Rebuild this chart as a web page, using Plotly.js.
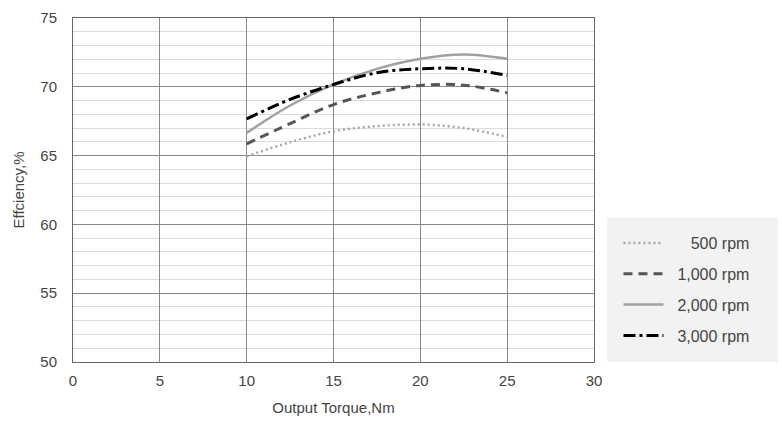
<!DOCTYPE html>
<html>
<head>
<meta charset="utf-8">
<script src="https://cdn.plot.ly/plotly-3.0.1.min.js"></script>
<style>html,body{margin:0;padding:0;background:#fff;}#chart{width:782px;height:426px;}</style>
</head>
<body>
<div id="chart"></div>
<script>
const torque = [10, 12.5, 15, 17.5, 20, 22.5, 25];
const eff500 = [64.95, 65.97, 66.77, 67.14, 67.26, 67.0, 66.36];
const eff1000 = [65.85, 67.33, 68.71, 69.56, 70.1, 70.12, 69.56];
const eff2000 = [66.65, 68.64, 70.17, 71.3, 72.04, 72.35, 72.04];
const eff3000 = [67.67, 69.08, 70.17, 71.02, 71.31, 71.31, 70.83];
const seriesNames = ['\u00a0\u00a0\u2007\u2008500 rpm', '\u00a0\u00a01,000 rpm', '\u00a0\u00a02,000 rpm', '\u00a0\u00a03,000 rpm'];
const xTicks = [0, 5, 10, 15, 20, 25, 30];
const yTicks = [50, 55, 60, 65, 70, 75];

const styles = [
  {color: '#a6a6a6', width: 2.5, dash: '2px,3px'},
  {color: '#555555', width: 3, dash: '9px,6px'},
  {color: '#a0a0a0', width: 2.5, dash: 'solid'},
  {color: '#000000', width: 3, dash: '12px,4px,3px,4px'}
];
const ys = [eff500, eff1000, eff2000, eff3000];
const traces = ys.map((y, i) => ({
  x: torque, y: y, type: 'scatter', mode: 'lines',
  name: seriesNames[i], legendgroup: 'g' + i,
  line: Object.assign({shape: 'spline', smoothing: 1.0}, styles[i])
}));

const font = {family: 'Liberation Sans, Arial, sans-serif', size: 15, color: '#444'};
const layout = {
  width: 782, height: 426,
  margin: {l: 73, r: 188, t: 18, b: 64},
  paper_bgcolor: '#fff', plot_bgcolor: '#fff',
  font: font,
  showlegend: true,
  legend: {
    x: 1.047, xanchor: 'left', y: 0.395, yanchor: 'top',
    bgcolor: 'rgba(0,0,0,0)', borderwidth: 0,
    font: {family: 'Liberation Sans, Arial, sans-serif', size: 16, color: '#444'},
    tracegroupgap: 7, itemwidth: 40
  },
  shapes: [{
    type: 'rect', xref: 'paper', yref: 'paper',
    x0: 1.025, x1: 1.353, y0: 0, y1: 0.419,
    fillcolor: '#f2f2f2', line: {width: 0}, layer: 'below'
  }],
  xaxis: {
    range: [0, 30], tickvals: xTicks, ticktext: xTicks.map(String),
    showgrid: true, gridcolor: '#8a8a8a', gridwidth: 1,
    showline: true, linecolor: '#666', linewidth: 1, mirror: true,
    ticks: 'outside', ticklen: 5, tickcolor: 'rgba(0,0,0,0)',
    zeroline: false, fixedrange: true,
    title: {text: 'Output Torque,Nm', font: {size: 15, color: '#444'}, standoff: 14}
  },
  yaxis: {
    range: [50, 75], tickvals: yTicks, ticktext: yTicks.map(String),
    showgrid: true, gridcolor: '#8a8a8a', gridwidth: 1,
    minor: {dtick: 1, showgrid: true, gridcolor: '#dcdcdc', gridwidth: 1, ticks: ''},
    showline: true, linecolor: '#666', linewidth: 1, mirror: true,
    ticks: 'outside', ticklen: 12, tickcolor: 'rgba(0,0,0,0)',
    zeroline: false, fixedrange: true,
    title: {text: 'Effciency,%', font: {size: 15, color: '#444'}, standoff: 12}
  }
};
Plotly.newPlot('chart', traces, layout, {displayModeBar: false, staticPlot: true});
</script>
</body>
</html>
